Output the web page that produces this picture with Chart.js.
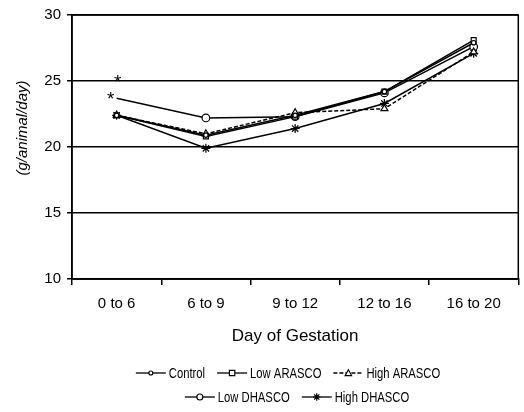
<!DOCTYPE html>
<html>
<head>
<meta charset="utf-8">
<script src="https://cdn.jsdelivr.net/npm/chart.js@4/dist/chart.umd.min.js"></script>
<style>
  html, body { margin: 0; padding: 0; background: #fff; }
  #wrap { width: 524px; height: 412px; }
</style>
</head>
<body>
<div id="wrap"><canvas id="myChart" width="524" height="412"></canvas></div>
<script>
// values
const categories = ['0 to 6', '6 to 9', '9 to 12', '12 to 16', '16 to 20'];
const control = [22.4, 20.9, 22.4, 24.2, 27.9];
const lowArasco = [22.4, 20.8, 22.3, 24.2, 28.1];
const highArasco = [22.4, 21.0, 22.6, 22.9, 27.2];
const lowDhasco = [23.7, 22.2, 22.3, 24.1, 27.6];
const highDhasco = [22.4, 19.9, 21.4, 23.3, 27.1];
const yTicks = [10, 15, 20, 25, 30];
const sigMarks = [['*', 25.2], ['*', 23.9]]; // asterisks over "0 to 6"

const FONT = 'Arial, "Liberation Sans", Helvetica, sans-serif';

function marker(ctx, style, x, y, r) {
    ctx.save();
    ctx.setLineDash([]);
    ctx.fillStyle = '#fff';
    ctx.strokeStyle = '#000';
    ctx.lineWidth = 1.2;
    ctx.beginPath();
    if (style === 'circle') {
        ctx.arc(x, y, r, 0, Math.PI * 2);
        ctx.fill(); ctx.stroke();
    } else if (style === 'rect') {
        ctx.rect(x - r, y - r, r * 2, r * 2);
        ctx.fill(); ctx.stroke();
    } else if (style === 'triangle') {
        ctx.moveTo(x, y - r);
        ctx.lineTo(x + r, y + r * 0.8);
        ctx.lineTo(x - r, y + r * 0.8);
        ctx.closePath();
        ctx.fill(); ctx.stroke();
    } else if (style === 'star') {
        ctx.moveTo(x - r, y); ctx.lineTo(x + r, y);
        ctx.moveTo(x, y - r); ctx.lineTo(x, y + r);
        ctx.moveTo(x - r * 0.7, y - r * 0.7); ctx.lineTo(x + r * 0.7, y + r * 0.7);
        ctx.moveTo(x - r * 0.7, y + r * 0.7); ctx.lineTo(x + r * 0.7, y - r * 0.7);
        ctx.stroke();
    }
    ctx.restore();
}

const extras = {
    id: 'extras',
    afterDraw(chart) {
        const ctx = chart.ctx;
        const area = chart.chartArea;
        const xs = chart.scales.x, ys = chart.scales.y;
        ctx.save();
        // frame
        ctx.strokeStyle = '#000';
        ctx.lineWidth = 1.5;
        ctx.strokeRect(area.left, area.top, area.right - area.left, area.bottom - area.top);

        // y title
        ctx.save();
        ctx.translate(23, 128);
        ctx.rotate(-Math.PI / 2);
        ctx.font = 'italic 15px ' + FONT;
        ctx.fillStyle = '#000';
        ctx.textAlign = 'center';
        ctx.textBaseline = 'middle';
        ctx.fillText('(g/animal/day)', 0, 0);
        ctx.restore();

        // significance asterisks
        ctx.font = '19px ' + FONT;
        ctx.fillStyle = '#000';
        ctx.textAlign = 'center';
        ctx.textBaseline = 'middle';
        sigMarks.forEach((m, i) => {
            const x = xs.getPixelForValue(0) + (i === 0 ? 1 : -6);
            ctx.fillText(m[0], x, ys.getPixelForValue(m[1]) + 4);
        });

        // legend, two rows with line + marker samples
        const rows = [[0, 1, 2], [3, 4]];
        const rowCenters = [288, 297];
        const squeeze = 0.75, sample = 30, gap = 3, spacing = 12;
        ctx.font = '15px ' + FONT;
        ctx.textAlign = 'left';
        rows.forEach((row, r) => {
            const y = 373 + r * 24;
            const items = row.map(i => {
                const ds = chart.data.datasets[i];
                return { ds, w: ctx.measureText(ds.label).width * squeeze };
            });
            const total = items.reduce((s, it) => s + sample + gap + it.w, 0) + spacing * (items.length - 1);
            let x = rowCenters[r] - total / 2;
            items.forEach(it => {
                ctx.strokeStyle = '#000';
                ctx.lineWidth = 1.3;
                ctx.setLineDash(it.ds.borderDash || []);
                ctx.beginPath();
                ctx.moveTo(x, y);
                ctx.lineTo(x + sample, y);
                ctx.stroke();
                marker(ctx, it.ds.pointStyle, x + sample / 2, y, it.ds.legendRadius);
                ctx.fillStyle = '#000';
                ctx.fillText(it.ds.label, x + sample + gap, y + 1, it.w);
                x += sample + gap + it.w + spacing;
            });
        });
        ctx.restore();
    }
};

const lineStyle = (label, data, pointStyle, radius, extra) => Object.assign({
    label: label,
    data: data,
    borderColor: '#000',
    borderWidth: 1.5,
    pointStyle: pointStyle,
    pointRadius: radius,
    legendRadius: Math.max(2, radius - 0.8),
    pointBorderWidth: 1.2,
    pointBorderColor: '#000',
    pointBackgroundColor: '#fff',
    tension: 0,
    fill: false
}, extra || {});

new Chart(document.getElementById('myChart'), {
    type: 'line',
    data: {
        labels: categories,
        datasets: [
            lineStyle('Control', control, 'circle', 2.2),
            lineStyle('Low ARASCO', lowArasco, 'rect', 3.5),
            lineStyle('High ARASCO', highArasco, 'triangle', 4, { borderDash: [4, 2] }),
            lineStyle('Low DHASCO', lowDhasco, 'circle', 3.8, { pointRadius: [0, 3.8, 3.8, 3.8, 3.8] }),
            lineStyle('High DHASCO', highDhasco, 'star', 4.5)
        ]
    },
    options: {
        responsive: false,
        animation: false,
        layout: { padding: { top: 15, right: 1, left: 0, bottom: 65 } },
        plugins: {
            legend: { display: false },
            tooltip: { enabled: false }
        },
        scales: {
            x: {
                offset: true,
                afterFit: s => { s.height = 68; },
                grid: { offset: true, drawOnChartArea: false, drawTicks: true, tickLength: 6, color: '#000', lineWidth: 1.5 },
                border: { color: '#000', width: 1.5 },
                ticks: { color: '#000', font: { size: 15, family: FONT }, padding: 10, maxRotation: 0 },
                title: { display: true, text: 'Day of Gestation', color: '#000', font: { size: 17, family: FONT }, padding: { top: 0, bottom: 0 } }
            },
            y: {
                min: 10,
                max: 30,
                afterFit: s => { s.width = 72; },
                afterBuildTicks: s => { s.ticks = yTicks.map(v => ({ value: v })); },
                grid: { color: '#000', lineWidth: 1.5, drawTicks: true, tickLength: 5 },
                border: { color: '#000', width: 1.5 },
                ticks: { color: '#000', font: { size: 15, family: FONT }, padding: 6 }
            }
        }
    },
    plugins: [extras]
});
</script>
</body>
</html>
